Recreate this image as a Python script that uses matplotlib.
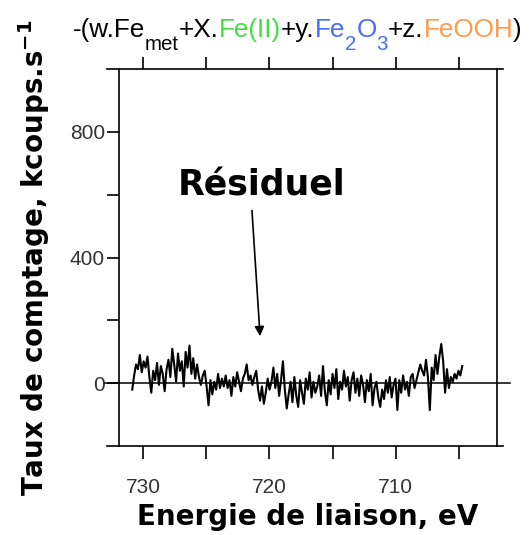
import numpy as np
import matplotlib
matplotlib.use('Agg')
import matplotlib.pyplot as plt
from matplotlib import transforms
from matplotlib.lines import Line2D

plt.rcParams['font.family'] = ['Liberation Sans', 'DejaVu Sans']
plt.rcParams['mathtext.fontset'] = 'custom'
plt.rcParams['mathtext.rm'] = 'DejaVu Sans'
plt.rcParams['mathtext.bf'] = 'DejaVu Sans:bold'

# residu du fit (kcoups/s), de 730.85 eV a 704.75 eV
residuel = [
    -20, 25, 60, 45, 90, 35, 70, 50, 85, 20,
    -30, 40, 10, 65, -5, 55, 30, -25, 45, 75,
    20, 110, 60, 5, 95, 40, 70, -10, 100, 50,
    120, 30, 80, 15, 60, 20, -5, 25, 40, -10,
    -70, 10, -35, 5, -20, 30, -15, 15, -10, 25,
    -15, 10, -40, 20, -10, 35, 5, -25, 15, 30,
    60, 10, 25, -5, 20, 40, -20, -55, -10, -65,
    -30, 15, -20, 5, 50, -15, 30, -40, 10, 70,
    -20, -80, -35, 5, -60, 20, -40, -75, 10, -30,
    -65, 15, -20, 35, -45, 5, -30, -10, 25, -40,
    55, -25, -70, 10, -35, 30, -15, 45, -50, 5,
    -20, 40, -10, 20, -55, 10, 35, -30, 15, -40,
    25, -5, -60, 10, -25, 30, -70, -15, 5, -45,
    -75, -20, -50, 10, -30, 20, -45, -5, 15, -85,
    10, -30, 25, -20, 5, -40, 20, 30, -15, 10,
    35, 60, 40, 25, 75, 20, -85, 50, 10, 90,
    30, 85, 125, 70, -30, 45, -15, 20, 5, 30,
    15, 40, 25, 55,
]
energie = np.linspace(730.85, 704.75, len(residuel))

x_ticks = [730, 725, 720, 715, 710, 705]
x_labels = ['730', '', '720', '', '710', '']
y_major = [0, 400, 800]
y_minor = [200, 600]

# titre : morceaux, couleurs, indice ou non
titre_textes = ["-(w.Fe", "met", "+X.", "Fe(II)", "+y.", "Fe", "2", "O", "3",
                "+z.", "FeOOH", ")"]
titre_couleurs = ['black', 'black', 'black', '#44dd44', 'black', '#4a6cff', '#4a6cff',
                  '#4a6cff', '#4a6cff', 'black', '#ff9a4a', 'black']
titre_indices = [False, True, False, False, False, False, True, False, True,
                 False, False, False]

fig = plt.figure(figsize=(5.31, 5.35), dpi=100)
ax = fig.add_axes([0.224, 0.166, 0.712, 0.705])

ax.plot(energie, residuel, color='black', linewidth=1.5)
ax.set_xlim(731.9, 702.0)
ax.set_ylim(-200, 1000)

# ligne du zero, depasse du cadre
ax.plot([733.0, 701.0], [0, 0], color='black', linewidth=1.1, clip_on=False)

# cadre : haut et bas prolonges
for s in ['top', 'bottom']:
    ax.spines[s].set_visible(False)
for s in ['left', 'right']:
    ax.spines[s].set_linewidth(1.2)
for yy in [0, 1]:
    ax.add_line(Line2D([-0.032, 1.016], [yy, yy], transform=ax.transAxes,
                       color='black', linewidth=1.2, clip_on=False))

ax.set_xticks(x_ticks)
ax.set_xticklabels(x_labels)
ax.tick_params(axis='x', which='both', direction='out', length=9, width=1.2,
               top=True, labeltop=False, labelsize=15, pad=14, labelcolor='#333333')
ax.set_yticks(y_major)
ax.set_yticks(y_minor, minor=True)
ax.tick_params(axis='y', which='both', direction='out', length=9, width=1.2,
               right=False, labelsize=15, pad=1, labelcolor='#333333')

ax.set_xlabel("Energie de liaison, eV", fontsize=20, fontweight='bold',
              family='DejaVu Sans', labelpad=4)
ax.set_ylabel("Taux de comptage, kcoups.s$^{\\mathbf{-1}}$", fontsize=20,
              fontweight='bold', family='DejaVu Sans', labelpad=13)

ax.text(720.6, 630, "Résiduel", fontsize=25, fontweight='bold', family='DejaVu Sans',
        ha='center', va='center')
ax.annotate("", xy=(720.74, 150), xytext=(721.38, 550),
            arrowprops=dict(arrowstyle='-|>', color='black', lw=1.2,
                            mutation_scale=14, shrinkA=0, shrinkB=0))

# titre multicolore
renderer = fig.canvas.get_renderer()
t = fig.transFigure
x0, y0 = 0.137, 0.931
for txt, col, sub in zip(titre_textes, titre_couleurs, titre_indices):
    tr = transforms.offset_copy(t, fig=fig, y=-9.5, units='points') if sub else t
    tt = fig.text(x0, y0, txt, color=col, fontsize=14.8 if sub else 18.8,
                  va='baseline', ha='left', transform=tr)
    tt.draw(renderer)
    ex = tt.get_window_extent(renderer)
    t = transforms.offset_copy(t, fig=fig, x=ex.width, units='dots')

fig.savefig('out.png', dpi=100)
